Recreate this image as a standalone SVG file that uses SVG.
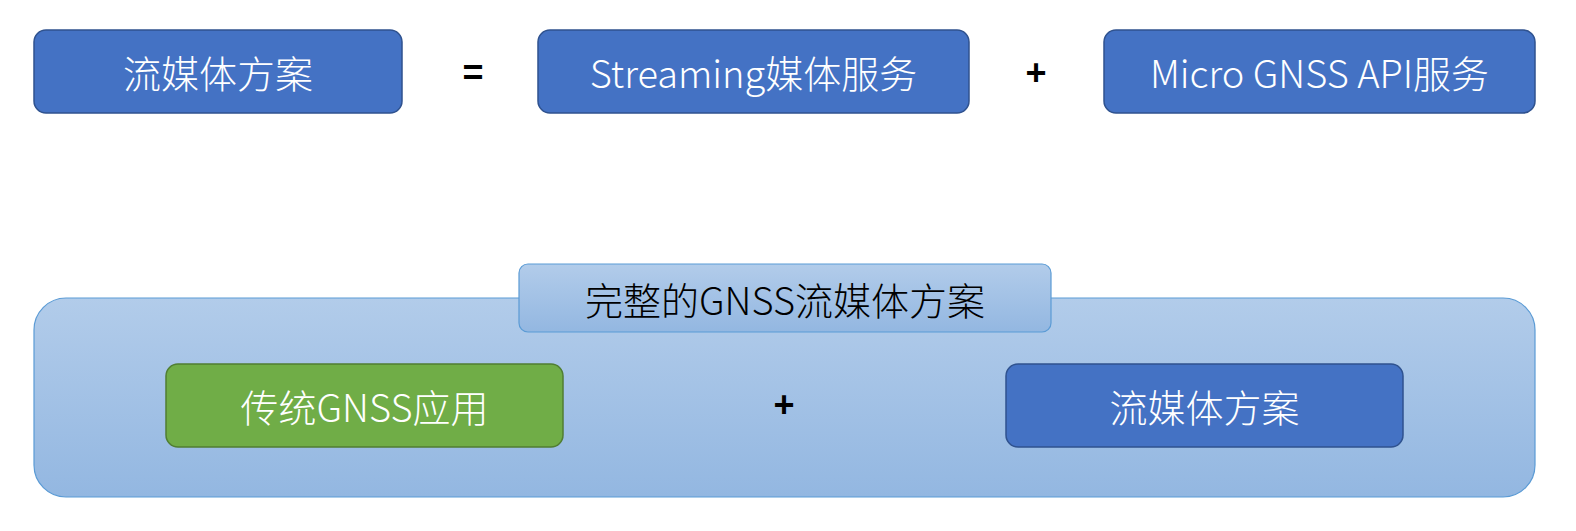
<svg xmlns="http://www.w3.org/2000/svg" width="1576" height="531" viewBox="0 0 1576 531">
  <defs>
    <linearGradient id="gContainer" x1="0" y1="0" x2="0" y2="1">
      <stop offset="0" stop-color="#B2CCEA"/>
      <stop offset="1" stop-color="#93B7E1"/>
    </linearGradient>
    <linearGradient id="gTitle" x1="0" y1="0" x2="0" y2="1">
      <stop offset="0" stop-color="#B2CCEA"/>
      <stop offset="1" stop-color="#93B7E1"/>
    </linearGradient>
  </defs>
  <style>
    .blue { fill: #4472C4; stroke: #2F528F; stroke-width: 1.5; }
    .green { fill: #70AD47; stroke: #507E32; stroke-width: 1.5; }
    .lbl { font-family: "Noto Sans CJK SC", "Noto Sans", sans-serif; font-size: 38px; font-weight: 300; text-anchor: middle; dominant-baseline: central; }
    .white { fill: #FFFFFF; }
    .dark { fill: #000000; }
    .op { font-family: "Liberation Sans", Arial, sans-serif; font-size: 36px; font-weight: bold; text-anchor: middle; dominant-baseline: central; fill: #000000; }
  </style>
  <rect width="1576" height="531" fill="#FFFFFF"/>

  <g id="container">
    <rect x="34" y="298" width="1501" height="199" rx="32" ry="32" fill="url(#gContainer)" stroke="#5B9BD5" stroke-width="1.2"/>
  </g>
  <g id="title">
    <rect x="519" y="264" width="532" height="68" rx="9" ry="9" fill="url(#gTitle)" stroke="#5B9BD5" stroke-width="1.2"/>
    <text class="lbl dark" x="785" y="298">完整的GNSS流媒体方案</text>
  </g>

  <g id="node-stream-top">
    <rect class="blue" x="34" y="30" width="368" height="83" rx="12" ry="12"/>
    <text class="lbl white" x="218" y="71.5">流媒体方案</text>
  </g>
  <g id="node-streaming">
    <rect class="blue" x="538" y="30" width="431" height="83" rx="12" ry="12"/>
    <text class="lbl white" x="753.5" y="71.5">Streaming媒体服务</text>
  </g>
  <g id="node-micro">
    <rect class="blue" x="1104" y="30" width="431" height="83" rx="12" ry="12"/>
    <text class="lbl white" x="1319.5" y="71.5">Micro GNSS API服务</text>
  </g>
  <g id="node-traditional">
    <rect class="green" x="166" y="364" width="397" height="83" rx="12" ry="12"/>
    <text class="lbl white" x="364.5" y="405.5">传统GNSS应用</text>
  </g>
  <g id="node-stream-bottom">
    <rect class="blue" x="1006" y="364" width="397" height="83" rx="12" ry="12"/>
    <text class="lbl white" x="1204.5" y="405.5">流媒体方案</text>
  </g>

  <g id="connectors">
    <text class="op" x="473" y="72">=</text>
    <text class="op" x="1036" y="72">+</text>
    <text class="op" x="784" y="404">+</text>
  </g>
</svg>
